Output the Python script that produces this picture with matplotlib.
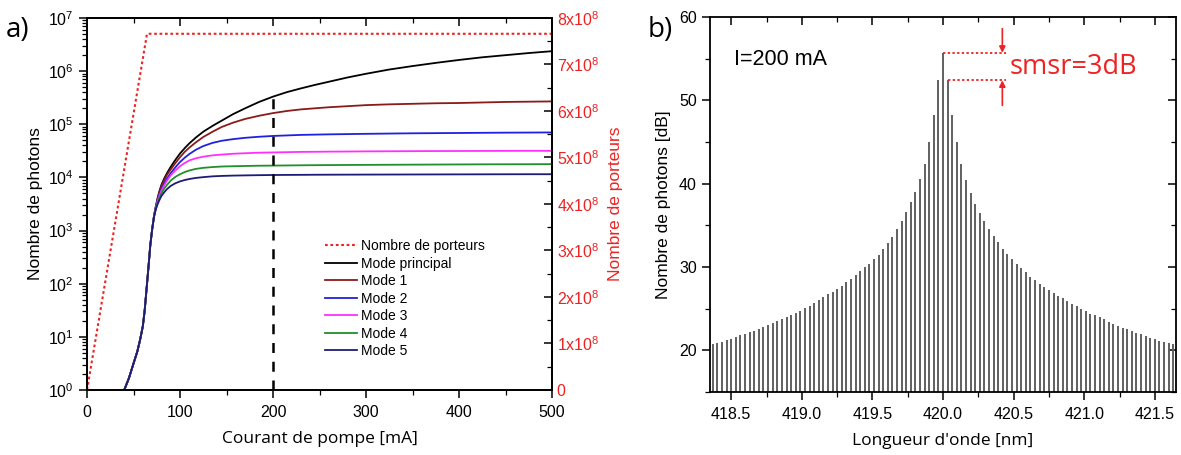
import numpy as np
import matplotlib
matplotlib.use("Agg")
import matplotlib.pyplot as plt
from matplotlib.ticker import FuncFormatter, MultipleLocator, LogLocator, NullFormatter

plt.rcParams['font.family'] = ['Liberation Sans', 'DejaVu Sans']
plt.rcParams['mathtext.default'] = 'regular'

# --- a) photons / carriers vs pump current ---
current_ma = [40, 45, 50, 54, 57, 60, 62, 64, 66, 68, 70, 72,
              74, 76, 78, 80, 83, 86, 90, 95, 100, 105, 110, 117, 125, 135, 145, 157, 170, 185,
              200, 215, 230, 245, 260, 280, 300, 325, 350, 375, 400, 425, 450, 475, 500]
# common rise below threshold (log10 photons)
rise_log = [0.0, 0.22, 0.5, 0.72, 0.94, 1.2, 1.5, 1.9, 2.3, 2.72, 3.02, 3.27]
main_log = rise_log + [3.46, 3.62, 3.75, 3.86, 3.98, 4.08, 4.2, 4.33, 4.45, 4.55, 4.64, 4.75, 4.86,
                       4.97, 5.07, 5.19, 5.30, 5.42, 5.52, 5.605, 5.675, 5.74, 5.80, 5.88, 5.95,
                       6.03, 6.095, 6.155, 6.21, 6.26, 6.30, 6.34, 6.375]
mode1_log = rise_log + [3.45, 3.6, 3.73, 3.84, 3.95, 4.05, 4.15, 4.27, 4.38, 4.48, 4.56, 4.66, 4.76,
                        4.86, 4.95, 5.03, 5.10, 5.16, 5.21, 5.25, 5.28, 5.30, 5.32, 5.34, 5.36,
                        5.375, 5.385, 5.395, 5.40, 5.41, 5.42, 5.425, 5.43]
mode2_log = rise_log + [3.44, 3.58, 3.69, 3.78, 3.89, 3.98, 4.08, 4.19, 4.29, 4.37, 4.44, 4.52, 4.59,
                        4.65, 4.69, 4.72, 4.745, 4.765, 4.78, 4.79, 4.80, 4.805, 4.81, 4.815, 4.82,
                        4.825, 4.83, 4.833, 4.836, 4.839, 4.842, 4.844, 4.846]
mode3_log = rise_log + [3.43, 3.56, 3.66, 3.75, 3.85, 3.94, 4.04, 4.13, 4.21, 4.27, 4.32, 4.36, 4.39,
                        4.415, 4.43, 4.445, 4.455, 4.465, 4.47, 4.475, 4.48, 4.482, 4.485, 4.487, 4.49,
                        4.492, 4.494, 4.496, 4.497, 4.498, 4.499, 4.50, 4.50]
mode4_log = rise_log + [3.42, 3.53, 3.62, 3.70, 3.79, 3.86, 3.94, 4.01, 4.06, 4.10, 4.13, 4.16, 4.18,
                        4.195, 4.205, 4.21, 4.215, 4.22, 4.222, 4.225, 4.228, 4.23, 4.232, 4.234, 4.236,
                        4.238, 4.24, 4.242, 4.244, 4.246, 4.247, 4.248, 4.25]
mode5_log = rise_log[:-1] + [3.25, 3.40, 3.50, 3.58, 3.65, 3.72, 3.78, 3.84, 3.89, 3.925, 3.95, 3.97,
                             3.99, 4.005, 4.02, 4.028, 4.034, 4.038, 4.042, 4.045, 4.047, 4.048, 4.05,
                             4.051, 4.052, 4.053, 4.054, 4.055, 4.056, 4.057, 4.058, 4.059, 4.06, 4.06]

carrier_current = [0, 64.5, 500]
carrier_number = [0, 7.66e8, 7.66e8]

marker_current = 200

mode_names = ['Mode principal', 'Mode 1', 'Mode 2', 'Mode 3', 'Mode 4', 'Mode 5']
mode_colors = ['#000000', '#8b1a1a', '#2020e0', '#ff30ff', '#20902a', '#1c1c78']

# --- b) spectrum at I=200 mA ---
center_nm = 420.0
mode_spacing_nm = 0.0326
gain_db = [20.7, 20.85, 21.0, 21.2, 21.4, 21.6, 21.8, 22.0, 22.15, 22.35,
           22.55, 22.8, 23.0, 23.25, 23.5, 23.7, 23.95, 24.2, 24.45, 24.75,
           25.05, 25.35, 25.65, 26.0, 26.35, 26.7, 27.0, 27.35, 27.75, 28.15,
           28.55, 29.0, 29.5, 29.95, 30.4, 30.9, 31.45, 32.1, 32.85, 33.65,
           34.5, 35.5, 36.6, 37.8, 39.0, 40.5, 42.4, 45.0, 48.2, 52.4,
           55.7,
           52.4, 48.2, 45.0, 42.3, 40.4, 38.9, 37.6, 36.5, 35.5, 34.55,
           33.7, 32.95, 32.2, 31.55, 30.95, 30.4, 29.85, 29.35, 28.85, 28.4,
           28.0, 27.6, 27.25, 26.9, 26.55, 26.25, 25.9, 25.6, 25.3, 25.0,
           24.7, 24.4, 24.2, 23.95, 23.7, 23.4, 23.15, 22.9, 22.7, 22.5,
           22.3, 22.1, 21.9, 21.7, 21.5, 21.3, 21.15, 21.0, 20.85, 20.7]

n_side = (len(gain_db) - 1) // 2
wavelength_nm = center_nm + mode_spacing_nm * (np.arange(len(gain_db)) - n_side)

fig = plt.figure(figsize=(11.81, 4.55), dpi=100)
ax1 = fig.add_axes([0.0737, 0.1429, 0.3937, 0.8176])
ax2 = ax1.twinx()
ax3 = fig.add_axes([0.6012, 0.1385, 0.3946, 0.8242])

tick_fs = 11.5
label_fs = 12.5
red = '#ee2222'
open_sans = ['Open Sans', 'DejaVu Sans']

# panel a
handles = []
for logs, name, col in zip([main_log, mode1_log, mode2_log, mode3_log, mode4_log, mode5_log],
                           mode_names, mode_colors):
    h, = ax1.plot(current_ma, 10 ** np.array(logs), color=col, lw=1.3, label=name)
    handles.append(h)

top_at_marker = 10 ** main_log[current_ma.index(marker_current)]
ax1.vlines(marker_current, 1, top_at_marker, colors='black', linestyles=(0, (4, 3.5)), lw=1.8)

hc, = ax2.plot(carrier_current, carrier_number, color=red, lw=1.5, ls=(0, (1.3, 1.3)),
               label='Nombre de porteurs')

ax1.set_yscale('log')
ax1.set_xlim(0, 500)
ax1.set_ylim(1, 1e7)
ax2.set_ylim(0, 8e8)
ax1.xaxis.set_major_locator(MultipleLocator(100))
ax1.xaxis.set_minor_locator(MultipleLocator(50))
ax1.yaxis.set_major_locator(LogLocator(base=10, numticks=10))
ax1.yaxis.set_minor_locator(LogLocator(base=10, subs=np.arange(2, 10), numticks=20))
ax1.yaxis.set_minor_formatter(NullFormatter())
ax2.yaxis.set_major_locator(MultipleLocator(1e8))
ax2.yaxis.set_minor_locator(MultipleLocator(0.5e8))
ax2.yaxis.set_major_formatter(FuncFormatter(
    lambda v, p: '0' if v == 0 else f'{int(round(v / 1e8))}x10$^8$'))

ax1.tick_params(axis='x', which='both', top=True, direction='out', labelsize=tick_fs, pad=5)
ax1.tick_params(axis='y', which='both', direction='out', labelsize=tick_fs)
ax1.tick_params(which='major', length=6, width=1.1)
ax1.tick_params(which='minor', length=3.5, width=0.9)
ax2.tick_params(axis='y', which='both', direction='in', labelsize=tick_fs, labelcolor=red)
ax2.tick_params(which='major', length=6, width=1.1)
ax2.tick_params(which='minor', length=3.5, width=0.9)
# top ticks point inward
for t in ax1.xaxis.get_major_ticks() + ax1.xaxis.get_minor_ticks():
    t.tick2line.set_marker(matplotlib.markers.TICKDOWN)

for sp in list(ax1.spines.values()) + list(ax2.spines.values()):
    sp.set_linewidth(1.3)

ax1.set_xlabel('Courant de pompe [mA]', fontsize=label_fs, family=open_sans, labelpad=8)
ax1.set_ylabel('Nombre de photons', fontsize=label_fs, labelpad=4)
ax2.set_ylabel('Nombre de porteurs', fontsize=label_fs, color=red, labelpad=6)

ax1.legend([hc] + handles, ['Nombre de porteurs'] + mode_names, loc='upper left',
           bbox_to_anchor=(0.5, 0.42), frameon=False, fontsize=10, handlelength=2.3,
           handletextpad=0.3, labelspacing=0.25, borderaxespad=0)

fig.text(0.005, 0.965, 'a)', fontsize=20, va='top', family=open_sans)

# panel b
ax3.vlines(wavelength_nm, 15, gain_db, colors='#606060', lw=1.4)
ax3.set_xlim(418.35, 421.65)
ax3.set_ylim(15, 60)
ax3.xaxis.set_major_locator(MultipleLocator(0.5))
ax3.xaxis.set_minor_locator(MultipleLocator(0.25))
ax3.yaxis.set_major_locator(MultipleLocator(10))
ax3.yaxis.set_minor_locator(MultipleLocator(5))
ax3.xaxis.set_major_formatter(FuncFormatter(lambda v, p: f'{v:.1f}'))
ax3.yaxis.set_major_formatter(FuncFormatter(lambda v, p: '' if v < 20 else f'{v:.0f}'))
ax3.tick_params(which='both', top=True, right=True, labelsize=tick_fs)
ax3.tick_params(axis='x', which='both', direction='out', pad=5)
ax3.tick_params(axis='y', which='both', direction='out')
ax3.tick_params(which='major', length=6, width=1.1)
ax3.tick_params(which='minor', length=3.5, width=0.9)
for t in ax3.xaxis.get_major_ticks() + ax3.xaxis.get_minor_ticks():
    t.tick2line.set_marker(matplotlib.markers.TICKDOWN)
for t in ax3.yaxis.get_major_ticks() + ax3.yaxis.get_minor_ticks():
    t.tick2line.set_marker(matplotlib.markers.TICKLEFT)
for sp in ax3.spines.values():
    sp.set_linewidth(1.3)

ax3.set_xlabel("Longueur d'onde [nm]", fontsize=label_fs, family=open_sans, labelpad=8)
ax3.set_ylabel('Nombre de photons [dB]', fontsize=label_fs, labelpad=6)

ax3.text(418.52, 54.9, 'I=200 mA', fontsize=15.5, va='center')

peak = gain_db[n_side]
side = gain_db[n_side - 1]
x_end = center_nm + 0.445
x_arrow = center_nm + 0.42
ax3.plot([center_nm, x_end], [peak, peak], color=red, lw=1.3, ls=(0, (1.3, 1.3)))
ax3.plot([center_nm + mode_spacing_nm, x_end], [side, side], color=red, lw=1.3, ls=(0, (1.3, 1.3)))
ax3.annotate('', xy=(x_arrow, peak), xytext=(x_arrow, peak + 2.9),
             arrowprops=dict(arrowstyle='-|>', color=red, lw=1.2, mutation_scale=9, shrinkA=0, shrinkB=0))
ax3.annotate('', xy=(x_arrow, side), xytext=(x_arrow, side - 3.0),
             arrowprops=dict(arrowstyle='-|>', color=red, lw=1.2, mutation_scale=9, shrinkA=0, shrinkB=0))
ax3.text(center_nm + 0.475, (peak + side) / 2, f'smsr={peak - side:.0f}dB', color=red, fontsize=19.5,
         va='center', family=open_sans)

fig.text(0.548, 0.965, 'b)', fontsize=20, va='top', family=open_sans)

fig.savefig('out.png', dpi=100)
